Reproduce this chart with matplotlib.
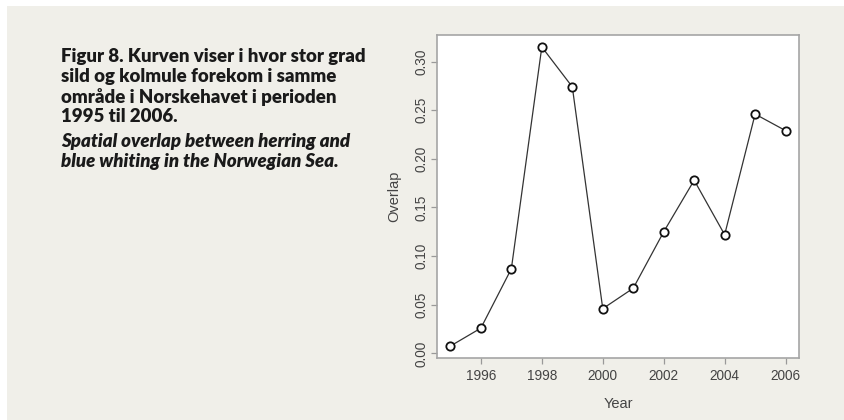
import matplotlib.pyplot as plt
from matplotlib.patches import Rectangle

# Data
years = [1995, 1996, 1997, 1998, 1999, 2000, 2001, 2002, 2003, 2004, 2005, 2006]
overlap = [0.0076, 0.026, 0.087, 0.315, 0.274, 0.046, 0.067, 0.125, 0.178, 0.122, 0.246, 0.229]
yticks = [0.00, 0.05, 0.10, 0.15, 0.20, 0.25, 0.30]
xticks = [1996, 1998, 2000, 2002, 2004, 2006]

caption_no = ["Figur 8. Kurven viser i hvor stor grad",
              "sild og kolmule forekom i samme",
              "område i Norskehavet i perioden",
              "1995 til 2006."]
caption_en = ["Spatial overlap between herring and",
              "blue whiting in the Norwegian Sea."]

W, H = 844, 420
fig = plt.figure(figsize=(W / 100, H / 100), dpi=100, facecolor="white")

# beige panel behind everything
fig.patches.append(Rectangle((7 / W, 0), 1, 1 - 6 / H, transform=fig.transFigure,
                             facecolor="#f0efe9", edgecolor="none", zorder=-10))

ax = fig.add_axes([437 / W, 1 - 358 / H, (799 - 437) / W, (358 - 35) / H])
ax.set_facecolor("white")
ax.plot(years, overlap, color="#333333", linewidth=0.9, marker="o", markersize=6,
        markerfacecolor="white", markeredgecolor="#111111", markeredgewidth=1.3)

# R-style 4% padding
span_x = years[-1] - years[0]
ax.set_xlim(years[0] - 0.04 * span_x, years[-1] + 0.04 * span_x)
span_y = max(overlap) - min(overlap)
ax.set_ylim(min(overlap) - 0.04 * span_y, max(overlap) + 0.04 * span_y)

ax.set_xticks(xticks)
ax.set_xticklabels([str(x) for x in xticks])
ax.set_yticks(yticks)
ax.set_yticklabels([f"{v:.2f}" for v in yticks], rotation=90, va="center")

for s in ax.spines.values():
    s.set_color("#a5a5a5")
    s.set_linewidth(1.2)

ax.tick_params(axis="both", direction="out", length=4, width=0.9, color="#999999",
               labelcolor="#444444", labelsize=9.8, pad=4)
ax.tick_params(axis="y", pad=2)

lab = dict(family="Liberation Sans", size=10.5, color="#444444")
ax.set_xlabel("Year", labelpad=10, **lab)
ax.set_ylabel("Overlap", labelpad=10, **lab)
for t in ax.get_xticklabels() + ax.get_yticklabels():
    t.set_family("Liberation Sans")

# caption block on the left
baselines_no = [62, 82, 103, 122]
baselines_en = [147, 167]
for line, yb in zip(caption_no, baselines_no):
    fig.text(61 / W, 1 - yb / H, line, family="Lato", weight="heavy", size=13.4,
             color="#1a1a1a", va="baseline", ha="left")
for line, yb in zip(caption_en, baselines_en):
    fig.text(61 / W, 1 - yb / H, line, family="Lato", weight="heavy", style="italic",
             size=13.4, color="#1a1a1a", va="baseline", ha="left")

fig.savefig("out.png", dpi=100, facecolor=fig.get_facecolor())
